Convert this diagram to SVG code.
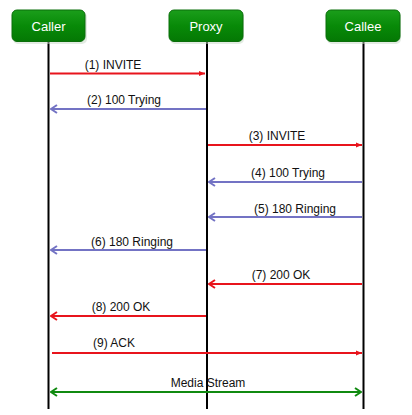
<svg xmlns="http://www.w3.org/2000/svg" width="412" height="415" viewBox="0 0 412 415">
<defs>
<linearGradient id="g" x1="0" y1="0" x2="0" y2="1">
<stop offset="0" stop-color="#1b9e1b"/>
<stop offset="0.5" stop-color="#088a08"/>
<stop offset="1" stop-color="#047804"/>
</linearGradient>
<marker id="fr" viewBox="0 0 6 6" refX="6" refY="3" markerWidth="6" markerHeight="6" markerUnits="userSpaceOnUse" orient="auto"><path d="M0,0.5 L6,3 L0,5.5 Z" fill="#e8141c"/></marker>
<marker id="cr" viewBox="0 0 8 10" refX="7" refY="5" markerWidth="8" markerHeight="10" markerUnits="userSpaceOnUse" orient="auto-start-reverse"><path d="M1,1 L7,5 L1,9" fill="none" stroke="#e8141c" stroke-width="2"/></marker>
<marker id="cb" viewBox="0 0 8 10" refX="7" refY="5" markerWidth="8" markerHeight="10" markerUnits="userSpaceOnUse" orient="auto-start-reverse"><path d="M1,1 L7,5 L1,9" fill="none" stroke="#7373c4" stroke-width="2"/></marker>
<marker id="cg" viewBox="0 0 8 10" refX="7" refY="5" markerWidth="8" markerHeight="10" markerUnits="userSpaceOnUse" orient="auto-start-reverse"><path d="M1,1 L7,5 L1,9" fill="none" stroke="#108a10" stroke-width="2"/></marker>
</defs>
<style>
.box{fill:url(#g);stroke:#0a6e0a;stroke-width:1}
.sh{fill:#c8d8c8;opacity:0.5}
.bt{font-family:"Liberation Sans",Arial,sans-serif;font-size:13px;fill:#ffffff;text-anchor:middle}
.life{stroke:#000;stroke-width:2}
.lb{font-family:"Liberation Sans",Arial,sans-serif;font-size:12px;fill:#111;text-anchor:middle}
.r{stroke:#e8141c;stroke-width:2;fill:none}
.b{stroke:#7373c4;stroke-width:2;fill:none}
.gr{stroke:#108a10;stroke-width:2;fill:none}
</style>
<rect width="412" height="415" fill="#ffffff"/>
<g id="lifelines">
<line class="life" x1="48.5" y1="42" x2="48.5" y2="409"/>
<line class="life" x1="207" y1="42" x2="207" y2="409"/>
<line class="life" x1="363.5" y1="42" x2="363.5" y2="409"/>
</g>
<g id="caller">
<rect class="sh" x="13" y="12" width="74" height="32" rx="5"/>
<rect class="box" x="12" y="10" width="73" height="31.5" rx="5"/>
<text class="bt" x="48.5" y="31">Caller</text>
</g>
<g id="proxy">
<rect class="sh" x="170" y="12" width="74" height="32" rx="5"/>
<rect class="box" x="169" y="10" width="74" height="31.5" rx="5"/>
<text class="bt" x="206" y="31">Proxy</text>
</g>
<g id="callee">
<rect class="sh" x="327" y="12" width="74" height="32" rx="5"/>
<rect class="box" x="326" y="10" width="74" height="31.5" rx="5"/>
<text class="bt" x="363" y="31">Callee</text>
</g>
<g id="connectors">
<line class="r" x1="50" y1="73.5" x2="205" y2="73.5" marker-end="url(#fr)"/>
<line class="b" x1="206" y1="109" x2="51" y2="109" marker-end="url(#cb)"/>
<line class="r" x1="208" y1="145" x2="362" y2="145" marker-end="url(#fr)"/>
<line class="b" x1="362" y1="182" x2="209" y2="182" marker-end="url(#cb)"/>
<line class="b" x1="362" y1="217" x2="209" y2="217" marker-end="url(#cb)"/>
<line class="b" x1="206" y1="250" x2="51" y2="250" marker-end="url(#cb)"/>
<line class="r" x1="362" y1="284" x2="209" y2="284" marker-end="url(#cr)"/>
<line class="r" x1="206" y1="316" x2="51" y2="316" marker-end="url(#cr)"/>
<line class="r" x1="52" y1="353" x2="362" y2="353" marker-end="url(#fr)"/>
<line class="gr" x1="51" y1="392" x2="361" y2="392" marker-start="url(#cg)" marker-end="url(#cg)"/>
</g>
<g id="labels">
<text class="lb" x="113" y="69">(1) INVITE</text>
<text class="lb" x="124" y="104">(2) 100 Trying</text>
<text class="lb" x="277" y="140">(3) INVITE</text>
<text class="lb" x="288" y="177">(4) 100 Trying</text>
<text class="lb" x="295" y="213">(5) 180 Ringing</text>
<text class="lb" x="132" y="246">(6) 180 Ringing</text>
<text class="lb" x="281" y="279">(7) 200 OK</text>
<text class="lb" x="121" y="311">(8) 200 OK</text>
<text class="lb" x="114" y="347">(9) ACK</text>
<text class="lb" x="208" y="387">Media Stream</text>
</g>
</svg>
